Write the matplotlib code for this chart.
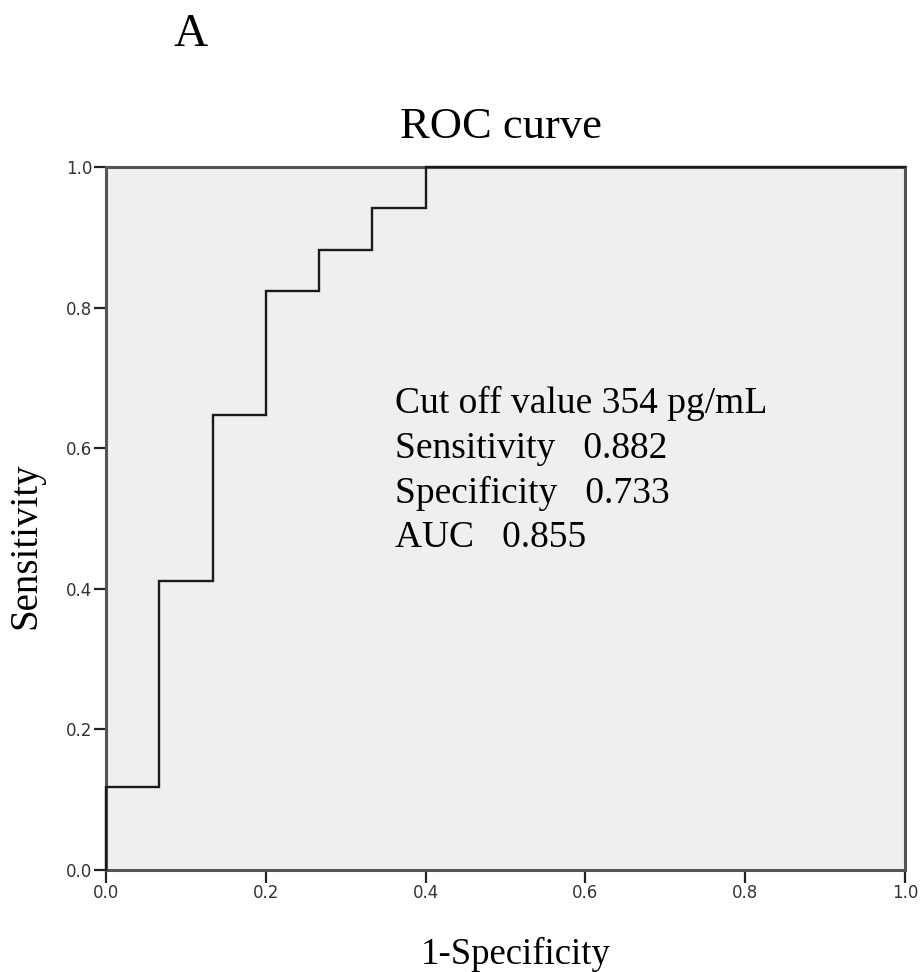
import numpy as np
import matplotlib.pyplot as plt

# ROC step curve (1-specificity vs sensitivity)
fpr = [0.0, 0.0, 1/15, 1/15, 2/15, 2/15, 3/15, 3/15, 4/15, 4/15, 5/15, 5/15, 6/15, 6/15, 1.0]
tpr = [0.0, 2/17, 2/17, 7/17, 7/17, 11/17, 11/17, 14/17, 14/17, 15/17, 15/17, 16/17, 16/17, 1.0, 1.0]
ticks = [0.0, 0.2, 0.4, 0.6, 0.8, 1.0]
notes = ["Cut off value 354 pg/mL", "Sensitivity   0.882", "Specificity   0.733", "AUC   0.855"]

serif = "Liberation Serif"
sans = "DejaVu Sans"
W, H = 923, 972

fig = plt.figure(figsize=(9.23, 9.72), dpi=100)
ax = fig.add_axes([106 / W, 1 - 870 / H, 799 / W, 703 / H])
ax.set_facecolor('#efefef')

ax.plot(fpr, tpr, color='#1a1a1a', linewidth=1.7, solid_joinstyle='miter', clip_on=False, zorder=3)

ax.set_xlim(0, 1)
ax.set_ylim(0, 1)
ax.set_xticks(ticks)
ax.set_yticks(ticks)
ax.set_xticklabels([f"{t:.1f}" for t in ticks], fontfamily=sans, fontsize=12, color='#333333')
ax.set_yticklabels([f"{t:.1f}" for t in ticks], fontfamily=sans, fontsize=12, color='#333333')
ax.tick_params(direction='out', length=9, width=1.6, color='#222222', pad=1)

for s in ax.spines.values():
    s.set_color('#555555')
    s.set_linewidth(2.2)

# title and axis labels placed to match the original export
fig.text(501 / W, 1 - 138 / H, "ROC curve", fontfamily=serif, fontsize=32, ha='center', va='baseline')
fig.text(516 / W, 1 - 964 / H, "1-Specificity", fontfamily=serif, fontsize=26.5, ha='center', va='baseline')
fig.text(26 / W, 1 - 546 / H, "Sensitivity", fontfamily=serif, fontsize=28, rotation=90,
         ha='center', va='center')
fig.text(191 / W, 1 - 46 / H, "A", fontfamily=serif, fontsize=34, ha='center', va='baseline')

base = [0.650, 0.586, 0.522, 0.459]
for t, yb in zip(notes, base):
    ax.text(0.362, yb, t, fontfamily=serif, fontsize=27, va='baseline', ha='left')

fig.savefig("out.png", dpi=100)
